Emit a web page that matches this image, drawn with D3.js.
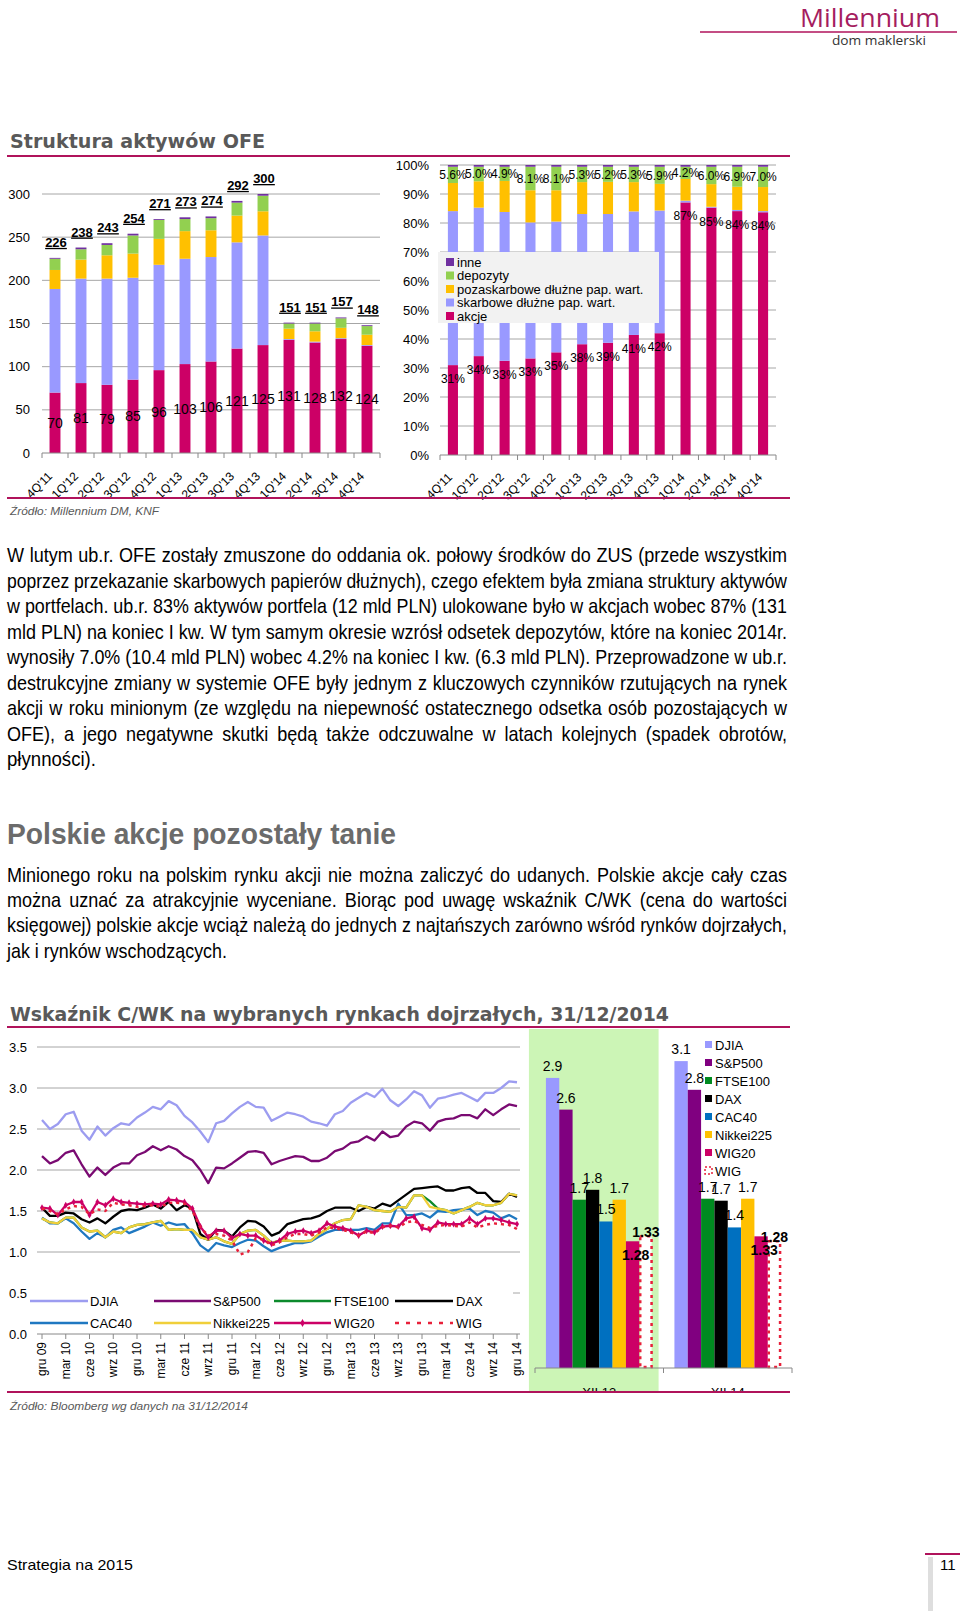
<!DOCTYPE html>
<html><head><meta charset="utf-8">
<script src="https://cdn.jsdelivr.net/npm/d3@7"></script>
<style>
body{margin:0;background:#fff;}
svg{display:block;}
text{font-family:"Liberation Sans",Arial,sans-serif;}
</style></head><body>
<script>
// ---------------- DATA ----------------
const quarters = ["4Q'11","1Q'12","2Q'12","3Q'12","4Q'12","1Q'13","2Q'13","3Q'13","4Q'13","1Q'14","2Q'14","3Q'14","4Q'14"];
const assetTotals = [226,238,243,254,271,273,274,292,300,151,151,157,148];
const akcje = [70,81,79,85,96,103,106,121,125,131,128,132,124];
const skarbowe = [120,121,123,118,122,122,121,123,127,1,1,1,1];
const pozaskarbowe = [22,22,27,28,30,32,31,31,28,12,12,12,12];
const depozyty = [13,12,12,21,22,14,14,15,18,6,9,11,10];
const inne = [1,2,2,2,1,2,2,2,2,1,1,1,1];

const akcjePct = [31.0,34.1,32.5,33.3,35.4,38.2,38.7,41.4,42.0,87.1,85.3,84.1,83.7];
const skarbowePct = [53.1,51.2,51.3,46.9,45.1,44.9,44.4,42.6,42.3,0.6,0.3,0.4,0.4];
const pozaskarbowePct = [9.7,9.1,10.7,11.1,10.8,11.0,11.1,10.1,9.2,7.5,7.8,8.0,8.3];
const depozytyPct = [5.6,5.0,4.9,8.1,8.1,5.3,5.2,5.3,5.9,4.2,6.0,6.9,7.0];
const innePct = [0.6,0.6,0.6,0.6,0.6,0.6,0.6,0.6,0.6,0.6,0.6,0.6,0.6];

const segNames = ["akcje","skarbowe dłużne pap. wart.","pozaskarbowe dłużne pap. wart.","depozyty","inne"];
const segColors = ["#cc0066","#9999ff","#ffc000","#92d050","#7030a0"];

const monthTickLabels = ["gru 09","mar 10","cze 10","wrz 10","gru 10","mar 11","cze 11","wrz 11","gru 11","mar 12","cze 12","wrz 12","gru 12","mar 13","cze 13","wrz 13","gru 13","mar 14","cze 14","wrz 14","gru 14"];
const pbTicks = [0,0.5,1.0,1.5,2.0,2.5,3.0,3.5];

const djiaPB = [2.61,
 2.50,2.56,2.68,2.71,2.48,2.37,2.53,2.42,2.51,2.57,2.55,2.64,
 2.70,2.77,2.74,2.84,2.79,2.66,2.58,2.47,2.34,2.57,2.60,2.69,
 2.77,2.83,2.77,2.76,2.60,2.65,2.70,2.68,2.65,2.59,2.57,2.54,
 2.68,2.72,2.82,2.88,2.94,2.89,2.99,2.85,2.78,2.86,2.96,2.91,
 2.76,2.87,2.89,2.92,2.94,2.89,2.84,2.94,2.94,3.00,3.08,3.07];
const sp500PB = [2.17,
 2.08,2.12,2.21,2.24,2.07,1.92,2.03,1.94,2.03,2.08,2.08,2.18,
 2.22,2.29,2.24,2.29,2.25,2.17,2.12,2.00,1.84,2.03,2.02,2.08,
 2.15,2.22,2.23,2.21,2.07,2.11,2.14,2.17,2.16,2.11,2.11,2.15,
 2.23,2.26,2.33,2.35,2.41,2.36,2.47,2.40,2.42,2.53,2.59,2.57,
 2.48,2.59,2.62,2.63,2.67,2.67,2.63,2.74,2.67,2.74,2.80,2.78];
const ftse100PB = [1.41,
 1.36,1.35,1.42,1.42,1.30,1.25,1.26,1.18,1.25,1.23,1.30,1.33,
 1.34,1.36,1.38,1.27,1.28,1.27,1.27,1.18,1.15,1.18,1.13,1.10,
 1.22,1.26,1.27,1.20,1.11,1.14,1.14,1.13,1.13,1.14,1.22,1.28,
 1.35,1.39,1.40,1.57,1.55,1.51,1.50,1.49,1.55,1.54,1.69,1.69,
 1.62,1.53,1.51,1.47,1.51,1.55,1.60,1.57,1.57,1.60,1.71,1.69];
const daxPB = [1.54,
 1.44,1.44,1.48,1.47,1.40,1.36,1.41,1.35,1.43,1.50,1.52,1.51,
 1.54,1.58,1.53,1.61,1.51,1.57,1.53,1.22,1.15,1.27,1.26,1.19,
 1.30,1.38,1.37,1.31,1.20,1.24,1.34,1.37,1.40,1.41,1.44,1.50,
 1.54,1.54,1.54,1.50,1.55,1.53,1.59,1.56,1.63,1.70,1.77,1.78,
 1.79,1.80,1.75,1.75,1.78,1.79,1.72,1.72,1.62,1.61,1.71,1.67];
const cac40PB = [1.42,
 1.35,1.35,1.41,1.35,1.25,1.16,1.23,1.18,1.27,1.30,1.23,1.27,
 1.31,1.36,1.32,1.36,1.33,1.34,1.23,1.08,1.01,1.11,1.08,1.06,
 1.11,1.15,1.14,1.07,1.01,1.05,1.08,1.11,1.11,1.13,1.19,1.24,
 1.27,1.27,1.27,1.27,1.29,1.27,1.35,1.35,1.59,1.45,1.45,1.47,
 1.42,1.50,1.49,1.51,1.52,1.53,1.45,1.50,1.48,1.41,1.45,1.40];
const nikkeiPB = [1.41,
 1.36,1.35,1.42,1.42,1.30,1.25,1.26,1.18,1.25,1.23,1.30,1.33,
 1.34,1.36,1.38,1.27,1.28,1.27,1.27,1.18,1.15,1.18,1.13,1.10,
 1.22,1.26,1.27,1.20,1.11,1.14,1.14,1.13,1.13,1.14,1.22,1.28,
 1.35,1.39,1.40,1.57,1.55,1.51,1.50,1.49,1.55,1.54,1.69,1.69,
 1.55,1.53,1.51,1.47,1.51,1.55,1.60,1.57,1.57,1.60,1.71,1.69];
const wig20PB = [1.54,
 1.53,1.45,1.57,1.61,1.61,1.45,1.61,1.57,1.65,1.61,1.60,1.59,
 1.58,1.59,1.58,1.64,1.63,1.61,1.53,1.31,1.18,1.26,1.26,1.17,
 1.22,1.20,1.20,1.14,1.10,1.14,1.22,1.25,1.26,1.23,1.26,1.35,
 1.31,1.29,1.26,1.20,1.26,1.24,1.31,1.32,1.31,1.41,1.43,1.29,
 1.27,1.36,1.34,1.34,1.34,1.41,1.34,1.41,1.41,1.39,1.36,1.34];
const wigPB = [1.53,
 1.50,1.46,1.52,1.56,1.55,1.46,1.52,1.50,1.60,1.58,1.57,1.55,
 1.56,1.57,1.55,1.60,1.60,1.59,1.50,1.30,1.20,1.22,1.20,1.14,
 0.97,1.00,1.17,1.15,1.08,1.12,1.18,1.22,1.22,1.20,1.24,1.30,
 1.29,1.27,1.24,1.20,1.25,1.23,1.30,1.32,1.30,1.36,1.38,1.33,
 1.29,1.32,1.33,1.32,1.31,1.36,1.30,1.33,1.35,1.34,1.33,1.28];

const marketNames = ["DJIA","S&P500","FTSE100","DAX","CAC40","Nikkei225","WIG20","WIG"];
const lineColors = ["#9c9cf0","#7a0a72","#0c8a2c","#000000","#1f78c1","#f0cf3a","#cc0066","#e8203a"];
const barColors = ["#9999ff","#800080","#008a20","#000000","#0070c0","#ffc000","#cc0066","#ffffff"];
const snapshotLabels = ["XII.13","XII.14"];
const snapDJIA = [2.93,3.10];
const snapSP500 = [2.61,2.81];
const snapFTSE100 = [1.70,1.71];
const snapDAX = [1.80,1.69];
const snapCAC40 = [1.48,1.42];
const snapNikkei = [1.70,1.71];
const snapWIG20 = [1.28,1.33];
const snapWIG = [1.33,1.28];

const para1 = [
"W lutym ub.r. OFE zostały zmuszone do oddania ok. połowy środków do ZUS (przede wszystkim",
"poprzez przekazanie skarbowych papierów dłużnych), czego efektem była zmiana struktury aktywów",
"w portfelach. ub.r. 83% aktywów portfela (12 mld PLN) ulokowane było w akcjach wobec 87% (131",
"mld PLN) na koniec I kw. W tym samym okresie wzrósł odsetek depozytów, które na koniec 2014r.",
"wynosiły 7.0% (10.4 mld PLN) wobec 4.2% na koniec I kw. (6.3 mld PLN). Przeprowadzone w ub.r.",
"destrukcyjne zmiany w systemie OFE były jednym z kluczowych czynników rzutujących na rynek",
"akcji w roku minionym (ze względu na niepewność ostatecznego odsetka osób pozostających w",
"OFE), a jego negatywne skutki będą także odczuwalne w latach kolejnych (spadek obrotów,",
"płynności)."];
const para2 = [
"Minionego roku na polskim rynku akcji nie można zaliczyć do udanych. Polskie akcje cały czas",
"można uznać za atrakcyjnie wyceniane. Biorąc pod uwagę wskaźnik C/WK (cena do wartości",
"księgowej) polskie akcje wciąż należą do jednych z najtańszych zarówno wśród rynków dojrzałych,",
"jak i rynków wschodzących."];

// ---------------- DRAW ----------------
const MAG = "#b0135b";
const svg = d3.select("body").append("svg").attr("width",960).attr("height",1611);

function txt(x,y,s,opts={}){
  const t = svg.append("text").attr("x",x).attr("y",y).text(s)
    .attr("font-size",opts.size||13).attr("fill",opts.fill||"#000")
    .attr("text-anchor",opts.anchor||"start");
  if(opts.weight) t.attr("font-weight",opts.weight);
  if(opts.style) t.attr("font-style",opts.style);
  if(opts.family) t.style("font-family",opts.family);
  if(opts.len) t.attr("textLength",opts.len).attr("lengthAdjust","spacingAndGlyphs");
  return t;
}
function rule(x1,x2,y,w){ svg.append("line").attr("x1",x1).attr("x2",x2).attr("y1",y).attr("y2",y).attr("stroke",MAG).attr("stroke-width",w||2); }

// header
txt(800,27,"Millennium",{size:26,fill:"#a51d5f",family:"'Open Sans',sans-serif",len:140});
rule(700,957,32,1.5);
txt(832,45,"dom maklerski",{size:12.5,fill:"#333",family:"'Open Sans',sans-serif",len:94});

// ---- Chart 1 title
txt(10,148,"Struktura aktywów OFE",{size:19,weight:"bold",fill:"#595959",family:"'DejaVu Sans',sans-serif",len:255});
rule(7,790,156,2);

// ---- Chart 1: stacked values
const x1 = d3.scaleBand().domain(quarters).range([42,380]).paddingInner(0.58).paddingOuter(0.29);
const y1 = d3.scaleLinear().domain([0,300]).range([453,194]);
const g1 = svg.append("g");
g1.selectAll("line.grid").data(d3.range(50,301,50)).join("line")
  .attr("x1",42).attr("x2",380).attr("y1",d=>y1(d)).attr("y2",d=>y1(d)).attr("stroke","#a6a6a6");
g1.selectAll("text.yl").data(d3.range(0,301,50)).join("text")
  .attr("x",30).attr("y",d=>y1(d)+4.5).attr("text-anchor","end").attr("font-size",13).text(d=>d);
const rows1 = quarters.map((q,i)=>({q,akcje:akcje[i],skarbowe:skarbowe[i],pozaskarbowe:pozaskarbowe[i],depozyty:depozyty[i],inne:inne[i]}));
const keys1 = ["akcje","skarbowe","pozaskarbowe","depozyty","inne"];
const st1 = d3.stack().keys(keys1)(rows1);
st1.forEach((s,k)=>{
  g1.selectAll(null).data(s).join("rect")
    .attr("x",d=>x1(d.data.q)).attr("width",x1.bandwidth())
    .attr("y",d=>y1(d[1])).attr("height",d=>y1(d[0])-y1(d[1])).attr("fill",segColors[k]);
});
g1.append("line").attr("x1",42).attr("x2",380).attr("y1",453).attr("y2",453).attr("stroke","#888");
g1.selectAll("line.tk").data(d3.range(0,14)).join("line")
  .attr("x1",d=>42+d*x1.step()).attr("x2",d=>42+d*x1.step()).attr("y1",453).attr("y2",458).attr("stroke","#888");
g1.selectAll("text.al").data(rows1).join("text")
  .attr("x",d=>x1(d.q)+x1.bandwidth()/2).attr("y",d=>y1(d.akcje/2)+5).attr("text-anchor","middle")
  .attr("font-size",14).text(d=>d.akcje);
g1.selectAll("text.tot").data(quarters).join("text")
  .attr("x",d=>x1(d)+x1.bandwidth()/2+1).attr("y",(d,i)=>y1(assetTotals[i])-11).attr("text-anchor","middle")
  .attr("font-size",13).attr("font-weight","bold").style("text-decoration","underline").text((d,i)=>assetTotals[i]);
g1.selectAll("text.xl").data(quarters).join("text")
  .attr("transform",d=>`translate(${x1(d)+x1.bandwidth()/2-2},${477}) rotate(-45)`)
  .attr("text-anchor","end").attr("font-size",12).text(d=>d);

// ---- Chart 2: percent
const x2 = d3.scaleBand().domain(quarters).range([440,776]).paddingInner(0.61).paddingOuter(0.305);
const y2 = d3.scaleLinear().domain([0,100]).range([455,165]);
const g2 = svg.append("g");
g2.selectAll("line.grid").data(d3.range(10,101,10)).join("line")
  .attr("x1",440).attr("x2",776).attr("y1",d=>y2(d)).attr("y2",d=>y2(d)).attr("stroke","#a6a6a6");
g2.selectAll("text.yl").data(d3.range(0,101,10)).join("text")
  .attr("x",429).attr("y",d=>y2(d)+4.5).attr("text-anchor","end").attr("font-size",13).text(d=>d+"%");
const rows2 = quarters.map((q,i)=>({q,akcje:akcjePct[i],skarbowe:skarbowePct[i],pozaskarbowe:pozaskarbowePct[i],depozyty:depozytyPct[i],inne:innePct[i]}));
const st2 = d3.stack().keys(keys1)(rows2);
st2.forEach((s,k)=>{
  g2.selectAll(null).data(s).join("rect")
    .attr("x",d=>x2(d.data.q)).attr("width",x2.bandwidth())
    .attr("y",d=>y2(d[1])).attr("height",d=>y2(d[0])-y2(d[1])).attr("fill",segColors[k]);
});
g2.append("line").attr("x1",440).attr("x2",776).attr("y1",455).attr("y2",455).attr("stroke","#888");
g2.selectAll("line.tk").data(d3.range(0,14)).join("line")
  .attr("x1",d=>440+d*x2.step()).attr("x2",d=>440+d*x2.step()).attr("y1",455).attr("y2",460).attr("stroke","#888");
g2.selectAll("text.al").data(st2[0]).join("text")
  .attr("x",d=>x2(d.data.q)+x2.bandwidth()/2).attr("y",d=>y2(d[1])+18).attr("text-anchor","middle")
  .attr("font-size",12).text(d=>d3.format(".0f")(d.data.akcje)+"%");
g2.selectAll("text.dl").data(st2[3]).join("text")
  .attr("x",d=>x2(d.data.q)+x2.bandwidth()/2).attr("y",d=>y2((d[0]+d[1])/2)+4.5).attr("text-anchor","middle")
  .attr("font-size",12).text(d=>d3.format(".1f")(d.data.depozyty)+"%");
g2.selectAll("text.xl").data(quarters).join("text")
  .attr("transform",d=>`translate(${x2(d)+x2.bandwidth()/2},${478}) rotate(-45)`)
  .attr("text-anchor","end").attr("font-size",12).text(d=>d);
// legend
g2.append("rect").attr("x",438).attr("y",252).attr("width",221).attr("height",71).attr("fill","#f2f2f2");
const legOrder = [4,3,2,1,0];
legOrder.forEach((k,i)=>{
  const yy = 262+i*13.5;
  g2.append("rect").attr("x",446).attr("y",yy-4).attr("width",8).attr("height",8).attr("fill",segColors[k]);
  g2.append("text").attr("x",457).attr("y",yy+4.5).attr("font-size",13).text(k===0?"akcje":segNames[k]);
});

rule(7,790,498,2);
txt(10,515,"Źródło: Millennium DM, KNF",{size:11.5,style:"italic",fill:"#595959",len:149});

// ---- Paragraphs (condensed look via horizontal squash)
const BODY = "'Liberation Sans',Arial,sans-serif";
function para(lines,x,y0,lh,width,lastWidth,size,sx){
  const g = svg.append("g").attr("transform",`translate(${x},0) scale(${sx},1)`);
  lines.forEach((t,i)=>{
    const el = g.append("text").attr("x",0).attr("y",y0+i*lh).attr("font-size",size).style("font-family",BODY).text(t);
    const last = i===lines.length-1;
    const target = (last?lastWidth:width)/sx;
    const nat = el.node().getComputedTextLength();
    const spaces = (t.match(/ /g)||[]).length;
    if(!last && nat<target && spaces>0){ el.style("word-spacing",((target-nat)/spaces)+"px"); }
    else { el.attr("textLength",target).attr("lengthAdjust","spacingAndGlyphs"); }
  });
}
para(para1,7,562,25.56,780,89,20.5,0.88);
txt(7,844,"Polskie akcje pozostały tanie",{size:30,weight:"bold",fill:"#6b6b6b",family:BODY,len:389});
para(para2,7,881.7,25.4,780,220,20.5,0.88);

// ---- Chart 3 title
txt(10,1021,"Wskaźnik C/WK na wybranych rynkach dojrzałych, 31/12/2014",{size:19,weight:"bold",fill:"#595959",family:"'DejaVu Sans',sans-serif",len:659});
rule(7,790,1027,2);

// ---- Chart 4 background (highlight)
const x4 = d3.scaleBand().domain(snapshotLabels).range([535,792]).paddingInner(0.17).paddingOuter(0.085);
const xi4 = d3.scaleBand().domain(marketNames).range([0,x4.bandwidth()]);
const y4 = d3.scaleLinear().domain([0,3.5]).range([1368,1021.5]);
svg.append("rect").attr("x",x4("XII.13")-17).attr("y",1029).attr("width",x4.bandwidth()+23).attr("height",362).attr("fill","#ccf5b6");

// ---- Chart 3: lines
const x3 = d3.scaleLinear().domain([0,60]).range([42,517]);
const y3 = d3.scaleLinear().domain([0,3.5]).range([1334,1047]);
const g3 = svg.append("g");
g3.selectAll("line.grid").data(pbTicks.slice(1)).join("line")
  .attr("x1",37).attr("x2",520).attr("y1",d=>y3(d)).attr("y2",d=>y3(d)).attr("stroke","#a6a6a6");
g3.selectAll("text.yl").data(pbTicks).join("text")
  .attr("x",27).attr("y",d=>y3(d)+4.5).attr("text-anchor","end").attr("font-size",13).text(d=>d3.format(".1f")(d));
g3.append("line").attr("x1",37).attr("x2",520).attr("y1",1334).attr("y2",1334).attr("stroke","#888");
g3.selectAll("line.tk").data(monthTickLabels).join("line")
  .attr("x1",(d,i)=>x3(i*3)).attr("x2",(d,i)=>x3(i*3)).attr("y1",1334).attr("y2",1339).attr("stroke","#888");
g3.selectAll("text.xl").data(monthTickLabels).join("text")
  .attr("transform",(d,i)=>`translate(${x3(i*3)+4},${1342}) rotate(-90)`)
  .attr("text-anchor","end").attr("font-size",12).text(d=>d);
const pbSeries = [djiaPB,sp500PB,ftse100PB,daxPB,cac40PB,nikkeiPB,wig20PB,wigPB];
const line3 = d3.line().x((d,i)=>x3(i)).y(d=>y3(d));
pbSeries.forEach((s,k)=>{
  const p = g3.append("path").attr("d",line3(s)).attr("fill","none").attr("stroke",lineColors[k])
    .attr("stroke-width",k===7?2.5:2.3).attr("stroke-linejoin","round");
  if(k===7) p.attr("stroke-dasharray","3,4");
  if(k===6){
    g3.selectAll("path.mk").data(s).join("path")
      .attr("transform",(d,i)=>`translate(${x3(i)},${y3(d)})`)
      .attr("d",d3.symbol(d3.symbolDiamond,14)).attr("fill",lineColors[6]);
  }
});
// legend for chart 3
g3.append("rect").attr("x",37).attr("y",1288).attr("width",476).attr("height",44).attr("fill","#fff");
const legX = [[30,88,90],[154,211,213],[274,331,334],[395,453,456]];
marketNames.forEach((n,k)=>{
  const col = k%4, row = Math.floor(k/4);
  const yy = row===0?1301:1323;
  const [a,b,t] = legX[col];
  const l = g3.append("line").attr("x1",a).attr("x2",b).attr("y1",yy).attr("y2",yy).attr("stroke",lineColors[k]).attr("stroke-width",k===7?2.5:2.3);
  if(k===7) l.attr("stroke-dasharray","4,7");
  if(k===6) g3.append("path").attr("transform",`translate(${(a+b)/2},${yy})`).attr("d",d3.symbol(d3.symbolDiamond,18)).attr("fill",lineColors[6]);
  g3.append("text").attr("x",t).attr("y",yy+5).attr("font-size",13).text(n);
});

// ---- Chart 4: bars
const g4 = svg.append("g");
const gl4 = svg.append("g");
const snapSeries = [snapDJIA,snapSP500,snapFTSE100,snapDAX,snapCAC40,snapNikkei,snapWIG20,snapWIG];
snapshotLabels.forEach((lab,gi)=>{
  marketNames.forEach((n,k)=>{
    const v = snapSeries[k][gi];
    const bx = x4(lab)+xi4(n);
    const r = g4.append("rect").attr("x",bx).attr("width",xi4.bandwidth()).attr("y",y4(v)).attr("height",y4(0)-y4(v)).attr("fill",barColors[k]);
    if(k===7){ r.attr("x",bx+1).attr("width",xi4.bandwidth()-2).attr("height",y4(0)-y4(v)-1).attr("stroke","#e8203a").attr("stroke-width",2.5).attr("stroke-dasharray","3,4"); }
    const cx = bx+xi4.bandwidth()/2;
    if(k<6) gl4.append("text").attr("x",cx).attr("y",y4(v)-7).attr("text-anchor","middle").attr("font-size",14).text(d3.format(".1f")(v));
    else if(k===6) gl4.append("text").attr("x",cx+3).attr("y",y4(v)+19).attr("text-anchor","middle").attr("font-size",14).attr("font-weight","bold").text(d3.format(".2f")(v));
    else gl4.append("text").attr("x",cx).attr("y",y4(v)+1).attr("text-anchor","middle").attr("font-size",14).attr("font-weight","bold").text(d3.format(".2f")(v));
  });
  gl4.append("text").attr("x",x4(lab)+x4.bandwidth()/2).attr("y",1397).attr("text-anchor","middle").attr("font-size",13).text(lab);
});
g4.append("line").attr("x1",535).attr("x2",792).attr("y1",1368).attr("y2",1368).attr("stroke","#888");
[535,535+x4.step(),792].forEach(xx=>g4.append("line").attr("x1",xx).attr("x2",xx).attr("y1",1368).attr("y2",1373).attr("stroke","#888"));
// legend chart 4
marketNames.forEach((n,k)=>{
  const yy = 1045+k*18;
  const r = gl4.append("rect").attr("x",705).attr("y",yy-4).attr("width",7).attr("height",7).attr("fill",barColors[k]);
  if(k===7) r.attr("stroke","#e8203a").attr("stroke-width",1.5).attr("stroke-dasharray","2,2");
  gl4.append("text").attr("x",715).attr("y",yy+4.5).attr("font-size",13).text(n);
});
svg.append("rect").attr("x",0).attr("y",1393).attr("width",800).attr("height",6).attr("fill","#fff");
rule(7,790,1392,2);
txt(10,1410,"Źródło: Bloomberg wg danych na 31/12/2014",{size:11.5,style:"italic",fill:"#595959",len:238});

// ---- footer
txt(7,1570,"Strategia na 2015",{size:15,family:BODY,len:126});
rule(925,960,1554,2);
svg.append("rect").attr("x",928).attr("y",1557).attr("width",5).attr("height",54).attr("fill","#dedede");
txt(940,1570,"11",{size:15,family:BODY});
</script>
</body></html>
